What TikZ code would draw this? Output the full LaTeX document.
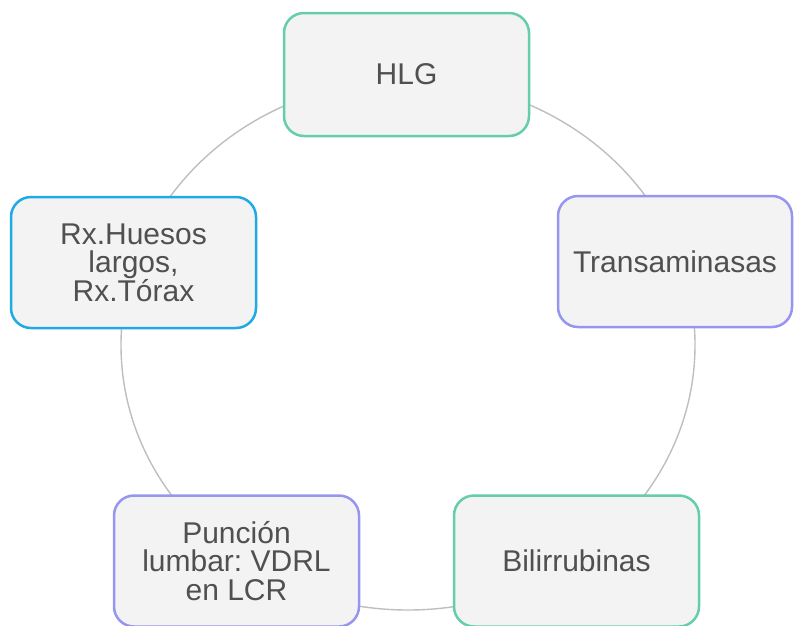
\documentclass[tikz,border=0pt]{standalone}
\usepackage{fontspec}
\setmainfont{Liberation Sans}
\frenchspacing
\definecolor{ringgray}{RGB}{190,190,190}
\definecolor{boxfill}{RGB}{243,243,243}
\definecolor{boxtext}{RGB}{80,80,80}
\definecolor{labgreen}{RGB}{100,205,170}
\definecolor{labviolet}{RGB}{150,150,240}
\definecolor{labcyan}{RGB}{30,170,230}
\usetikzlibrary{positioning}

\begin{document}
\begin{tikzpicture}[x=1pt,y=-1pt,
                    exam/.style={rectangle,rounded corners=20pt,
                                 draw,line width=2.5pt,fill=boxfill,
                                 minimum width=245pt,minimum height=131pt,
                                 align=center,text=boxtext,
                                 font=\fontsize{30}{28.5}\selectfont},
                    ring/.style={ringgray,line width=1.4pt}]
  \useasboundingbox (0,0) rectangle (794,625);
  % ring behind the boxes
  \coordinate (hub) at (408,345);
  \draw[ring] (hub) ellipse [x radius=287pt,y radius=265pt];
  \node[exam,draw=labgreen,minimum height=123pt] (hlg) at (406.5,74.5) {HLG};
  \node[exam,draw=labviolet,minimum width=234pt] (transa) at (675,261.5) {Transaminasas};
  \node[exam,draw=labgreen] (bili) at (576.5,561) {Bilirrubinas};
  \node[exam,draw=labviolet] (puncion) at (236.5,561) {Punción\\lumbar: VDRL\\en LCR};
  \node[exam,draw=labcyan] (rx) at (133.5,262.5) {Rx.Huesos\\largos,\\Rx.Tórax};
\end{tikzpicture}
\end{document}
